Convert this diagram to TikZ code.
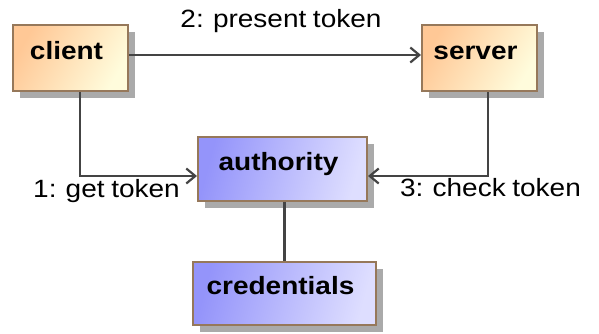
\documentclass[tikz,border=0pt]{standalone}
\usepackage{fontspec}
\setmainfont[FakeStretch=1.12, WordSpace=0.85]{Liberation Sans}
\usetikzlibrary{shadows,arrows.meta}

\definecolor{warmA}{RGB}{255,200,150}
\definecolor{warmB}{RGB}{255,252,220}
\definecolor{coolA}{RGB}{148,148,250}
\definecolor{coolB}{RGB}{222,222,255}
\definecolor{boxborder}{RGB}{150,120,90}
\definecolor{shadowgray}{RGB}{170,170,170}
\definecolor{wire}{RGB}{68,68,68}

\tikzset{
  box/.style={draw=boxborder, line width=2pt,
    font=\fontsize{25}{30}\selectfont\bfseries,
    text height=9pt, text depth=7pt, inner sep=0pt,
    execute at end node={\hspace*{8pt}},
    drop shadow={shadow xshift=7pt, shadow yshift=-7pt,
                 fill=shadowgray, opacity=1}},
  warmbox/.style={box, top color=warmA, bottom color=warmB, shading angle=60},
  coolbox/.style={box, top color=coolA, bottom color=coolB, shading angle=75},
  conn/.style={draw=wire, line width=2.2pt},
  msg/.style={conn, -{Straight Barb[length=9pt,width=15pt]}},
  msglabel/.style={anchor=base, inner sep=0pt, font=\fontsize{25}{30}\selectfont}
}

\begin{document}
\begin{tikzpicture}[x=1pt, y=1pt]
  \useasboundingbox (0,0) rectangle (599,-333);

  % participants
  \node[warmbox, minimum width=115pt, minimum height=66pt] (client) at (70.5,-58) {client};
  \node[warmbox, minimum width=115pt, minimum height=66pt] (server) at (479.5,-58) {server};
  \node[coolbox, minimum width=169pt, minimum height=64pt] (authority) at (282.5,-169) {authority};
  \node[coolbox, minimum width=183pt, minimum height=63pt] (credentials) at (284.5,-293.5) {credentials};

  % messages
  \draw[msg] ([yshift=3pt]client.east) -- ([yshift=3pt]server.west);
  \draw[msg] ([xshift=9.5pt]client.south) |- ([yshift=-7pt]authority.west);
  \draw[msg] ([xshift=8.5pt]server.south) |- ([yshift=-7pt]authority.east);
  \draw[conn] ([xshift=2pt]authority.south) -- ([xshift=2pt]authority.south |- credentials.north);

  % message labels
  \node[msglabel] (lpresent) at (281,-27) {2: present token};
  \node[msglabel] (lget) at (106.5,-197) {1: get token};
  \node[msglabel] (lcheck) at (490.5,-196) {3: check token};
\end{tikzpicture}
\end{document}
